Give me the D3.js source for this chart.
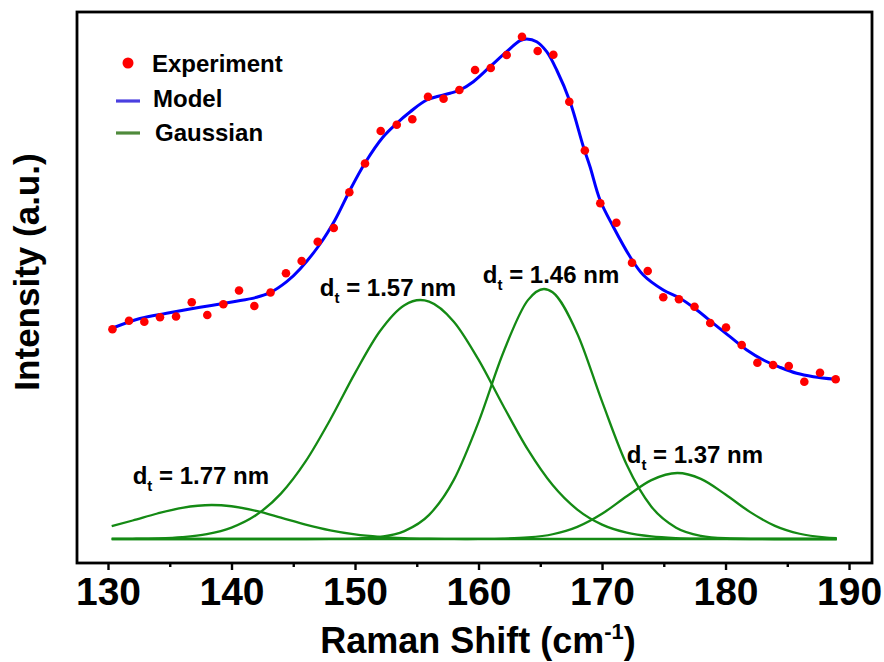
<!DOCTYPE html>
<html><head><meta charset="utf-8">
<script src="https://cdn.jsdelivr.net/npm/d3@7/dist/d3.min.js"></script>
<style>html,body{margin:0;padding:0;background:#fff;}svg{display:block;}</style>
</head><body>
<svg id="chart" width="884" height="662"></svg>
<script>
// ---- data ----
const expShift = [130.36,131.70,132.94,134.21,135.51,136.78,138.04,139.34,140.61,141.85,143.16,144.41,145.68,146.98,148.28,149.54,150.81,152.08,153.38,154.64,155.91,157.17,158.45,159.72,160.99,162.28,163.52,164.79,166.06,167.35,168.61,169.86,171.16,172.43,173.70,174.96,176.23,177.49,178.76,180.04,181.31,182.58,183.85,185.12,186.38,187.65,188.92];
const expInt = [41.94,43.66,43.46,44.34,44.50,47.34,44.80,46.94,49.70,46.60,49.30,53.14,55.60,59.46,62.20,69.34,75.10,81.60,82.86,83.94,88.46,88.06,89.80,93.80,94.20,96.80,100.46,97.60,96.86,87.46,77.70,67.14,63.26,55.26,53.60,48.34,47.94,46.46,43.20,42.30,38.80,35.26,34.80,34.60,31.46,33.26,31.94];

const modelShift = [130.38,132.59,134.75,137.45,140.15,142.04,143.12,144.47,145.55,147.17,148.38,149.60,150.81,152.27,153.38,154.45,155.81,157.69,158.50,159.58,160.93,162.28,163.36,163.90,164.71,165.52,166.33,167.41,168.49,169.03,169.84,170.91,172.27,173.34,174.96,176.32,177.67,179.01,180.36,181.72,183.06,184.41,185.76,187.11,188.92];
const modelInt = [42.2,44.1,45.14,46.34,47.46,48.34,49.26,51.46,54.0,59.0,63.8,69.8,75.2,80.4,83.14,85.4,87.8,89.14,89.8,91.46,94.46,97.46,99.66,100.0,99.46,97.46,93.8,87.46,78.46,74.46,67.8,62.46,56.46,52.8,49.8,48.14,45.8,43.14,40.46,37.8,35.8,34.34,33.14,32.46,31.94];

// Gaussian components (d_t = 1.77, 1.57, 1.46, 1.37 nm)
const g177Shift = [130.3,132,134,136,138.4,140,142,144,146,148,150,152,154,156,158,160,189];
const g177Int   = [2.57,3.70,5.10,6.24,6.80,6.55,5.61,4.27,2.88,1.73,0.92,0.44,0.18,0.07,0.02,0,0];
const g157Shift = [130.3,132,134,136,138,140,142,144,146,148,150,152,154,155.3,156,158,160,162,164,166,168,170,172,174,176,178,180,182,189];
const g157Int   = [0.01,0.04,0.13,0.38,0.97,2.28,4.79,9.08,15.52,23.90,33.17,41.49,46.76,47.8,47.49,43.47,35.87,26.66,17.86,10.78,5.87,2.87,1.27,0.51,0.18,0.06,0.02,0,0];
const g146Shift = [130.3,146,148,150,152,154,156,158,160,162,164,165.3,166,168,170,172,174,176,178,180,182,184,189];
const g146Int   = [0,0,0.02,0.09,0.42,1.58,4.82,11.83,23.39,37.25,47.77,50,49.34,41.06,27.51,14.85,6.46,2.26,0.64,0.15,0.03,0,0];
const g137Shift = [130.3,158,160,162,164,166,168,170,172,174,176.1,178,180,182,184,186,188,189];
const g137Int   = [0,0,0.02,0.08,0.30,0.95,2.43,5.05,8.55,11.78,13.2,12.03,8.91,5.37,2.63,1.05,0.34,0.18];

// annotation labels: diameter text, anchor shift, anchor intensity
const peakLabels = ["1.77","1.57","1.46","1.37"];
const labelShift = [132.0,147.15,160.35,172.0];
const labelInt   = [11.0,48.6,51.2,15.2];

const xTicks = [130,140,150,160,170,180,190];
const xMinor = [135,145,155,165,175,185];
const legendNames = ["Experiment","Model","Gaussian"];

// ---- layout ----
const FONT = "'Liberation Sans', Arial, Helvetica, sans-serif";
const svg = d3.select("#chart");
const L = 77, R = 872, T = 12, B = 563;
const x = d3.scaleLinear().domain([127.49, 191.86]).range([L, R]);
const y = d3.scaleLinear().domain([-4.8, 105.4]).range([B, T]);

const green = "#148a14";
const blue = "#0000ff";
const red = "#ff0000";

// gaussians
const gLine = d3.line().x(d => x(d[0])).y(d => y(d[1])).curve(d3.curveMonotoneX);
[[g177Shift,g177Int],[g157Shift,g157Int],[g146Shift,g146Int],[g137Shift,g137Int]].forEach(([xs,ys]) => {
  svg.append("path").attr("d", gLine(xs.map((v,i)=>[v, ys[i]])))
    .attr("fill","none").attr("stroke",green).attr("stroke-width",2.3);
});

// model
const mLine = d3.line().x(d => x(d[0])).y(d => y(d[1])).curve(d3.curveCatmullRom.alpha(0.5));
svg.append("path").attr("d", mLine(modelShift.map((v,i)=>[v, modelInt[i]])))
  .attr("fill","none").attr("stroke",blue).attr("stroke-width",3);

// experiment points
svg.append("g").selectAll("circle").data(expShift.map((v,i)=>[v, expInt[i]])).join("circle")
  .attr("cx", d => x(d[0])).attr("cy", d => y(d[1])).attr("r", 4.3).attr("fill", red);

// frame
svg.append("rect").attr("x",L).attr("y",T).attr("width",R-L).attr("height",B-T)
  .attr("fill","none").attr("stroke","#000").attr("stroke-width",2.8);

// x axis
const ax = svg.append("g").attr("transform",`translate(0,${B})`)
  .call(d3.axisBottom(x).tickValues(xTicks).tickSize(7).tickPadding(7).tickFormat(d3.format("d")));
ax.select(".domain").remove();
ax.selectAll(".tick line").attr("stroke","#000").attr("stroke-width",2.4);
ax.selectAll(".tick text").attr("font-family",FONT).attr("font-weight","bold").attr("font-size",39).attr("fill","#000");
const axm = svg.append("g").attr("transform",`translate(0,${B})`)
  .call(d3.axisBottom(x).tickValues(xMinor).tickSize(4).tickFormat(""));
axm.select(".domain").remove();
axm.selectAll(".tick line").attr("stroke","#000").attr("stroke-width",2.4);

// axis titles
const xt = svg.append("text").attr("x", 478).attr("y", 653).attr("text-anchor","middle")
  .attr("font-family",FONT).attr("font-weight","bold").attr("font-size",36).attr("fill","#000");
xt.append("tspan").text("Raman Shift (cm");
xt.append("tspan").attr("font-size",22).attr("dy",-14).text("-1");
xt.append("tspan").attr("dy",14).text(")");

svg.append("text").attr("transform","translate(39,272) rotate(-90)").attr("text-anchor","middle")
  .attr("font-family",FONT).attr("font-weight","bold").attr("font-size",35).attr("fill","#000")
  .text("Intensity (a.u.)");

// peak annotations
peakLabels.forEach((lab,i) => {
  const t = svg.append("text").attr("x", x(labelShift[i])).attr("y", y(labelInt[i]))
    .attr("font-family",FONT).attr("font-weight","bold").attr("font-size",24).attr("fill","#000");
  t.append("tspan").text("d");
  t.append("tspan").attr("font-size",15).attr("dy",7).text("t");
  t.append("tspan").attr("dy",-7).text(" = " + lab + " nm");
});

// legend
const lg = svg.append("g");
lg.append("circle").attr("cx",128).attr("cy",63).attr("r",5.5).attr("fill",red);
lg.append("line").attr("x1",116).attr("x2",140).attr("y1",101).attr("y2",101).attr("stroke","#4a3fe0").attr("stroke-width",3.2);
lg.append("line").attr("x1",116).attr("x2",140).attr("y1",133).attr("y2",133).attr("stroke","#4f8a3b").attr("stroke-width",3.2);
const lx = [152,153,155], ly = [72,107,141];
legendNames.forEach((n,i) => {
  lg.append("text").attr("x",lx[i]).attr("y",ly[i]).attr("font-family",FONT).attr("font-weight","bold")
    .attr("font-size",24).attr("fill","#000").text(n);
});
</script>
</body></html>
